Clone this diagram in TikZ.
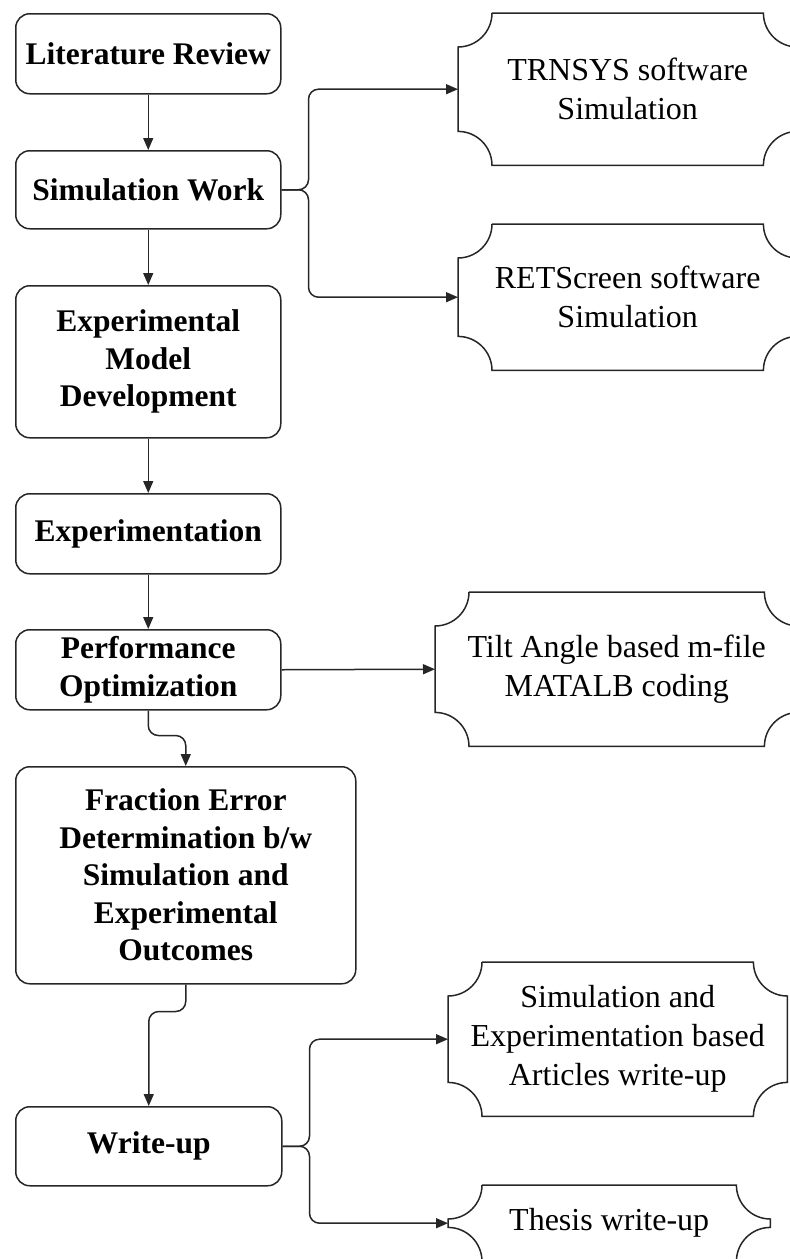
\documentclass[tikz,border=0pt]{standalone}
\usepackage{fontspec}
\setmainfont{Liberation Serif}
\usetikzlibrary{arrows.meta}
% radius of the concave corners of the output plaques
\newcommand\plaqr{34pt}
% draws the concave-cornered outline around a named plaque node
\newcommand\plaqueoutline[1]{%
  \draw[plaqueborder]
    ([xshift=\plaqr]#1.north west) -- ([xshift=-\plaqr]#1.north east)
    arc[start angle=180, end angle=270, radius=\plaqr]
    -- ([yshift=\plaqr]#1.south east)
    arc[start angle=90, end angle=180, radius=\plaqr]
    -- ([xshift=\plaqr]#1.south west)
    arc[start angle=0, end angle=90, radius=\plaqr]
    -- ([yshift=-\plaqr]#1.north west)
    arc[start angle=270, end angle=360, radius=\plaqr];}
\begin{document}
\begin{tikzpicture}[x=1pt, y=1pt,
  stage/.style={draw=black!85, line width=1.5pt, rounded corners=14pt, inner sep=0pt,
    align=center, anchor=north west,
    font=\bfseries\fontsize{31.5}{37.5}\selectfont},
  plaque/.style={inner sep=0pt, align=center, anchor=north west,
    font=\fontsize{32}{39}\selectfont},
  plaqueborder/.style={draw=black!85, line width=1.5pt},
  link/.style={draw=black!85, line width=1.5pt, -{Triangle[length=12pt,width=10pt]}}]
\useasboundingbox (0,0) rectangle (790,-1259);
\clip (0,0) rectangle (790,-1259);

% main sequence of stages
\node[stage, minimum width=265pt, minimum height=80pt]  (lit)  at (15,-13)   {Literature Review};
\node[stage, minimum width=265pt, minimum height=78pt]  (sim)  at (15,-150)  {Simulation Work};
\node[stage, minimum width=265pt, minimum height=152pt] (emd)  at (15,-285)  {Experimental\\Model\\Development};
\node[stage, minimum width=265pt, minimum height=80pt]  (expt) at (15,-493)  {Experimentation};
\node[stage, minimum width=265pt, minimum height=80pt]  (perf) at (15,-629)  {Performance\\Optimization};
\node[stage, minimum width=340pt, minimum height=217pt] (frac) at (15,-766)  {Fraction Error\\Determination b/w\\Simulation and\\Experimental\\Outcomes};
\node[stage, minimum width=266pt, minimum height=79pt]  (wr)   at (15,-1106) {Write-up};

% outputs
\node[plaque, minimum width=339pt, minimum height=152pt] (trn)  at (458,-13)   {TRNSYS software\\Simulation};
\node[plaque, minimum width=339pt, minimum height=146pt] (ret)  at (458,-224)  {RETScreen software\\Simulation};
\node[plaque, minimum width=363pt, minimum height=154pt] (tilt) at (435,-592)  {Tilt Angle based m-file\\MATALB coding};
\node[plaque, minimum width=339pt, minimum height=154pt] (sxp)  at (448,-962)  {Simulation and\\Experimentation based\\Articles write-up};
\node[plaque, minimum width=322pt, minimum height=76pt]  (ths)  at (448,-1185) {Thesis write-up};
\plaqueoutline{trn}
\plaqueoutline{ret}
\plaqueoutline{tilt}
\plaqueoutline{sxp}
\plaqueoutline{ths}

% flow down the main column
\draw[link] (lit.south) -- (sim.north);
\draw[link] (sim.south) -- (emd.north);
\draw[link] (emd.south) -- (expt.north);
\draw[link] (expt.south) -- (perf.north);
\draw[link, rounded corners=10pt] (perf.south) -- ++(0,-25) -| (frac.north);
\draw[link, rounded corners=10pt] (frac.south) -- ++(0,-27) -| (wr.north);

% branches to the outputs
\draw[link, rounded corners=10pt] (sim.east) -- ++(27,0) |- (trn.west);
\draw[link, rounded corners=10pt] (sim.east) -- ++(27,0) |- (ret.west);
\draw[link] (perf.east) -- (tilt.west);
\draw[link, rounded corners=10pt] (wr.east) -- ++(27,0) |- (sxp.west);
\draw[link, rounded corners=10pt] (wr.east) -- ++(27,0) |- (ths.west);
\end{tikzpicture}
\end{document}
